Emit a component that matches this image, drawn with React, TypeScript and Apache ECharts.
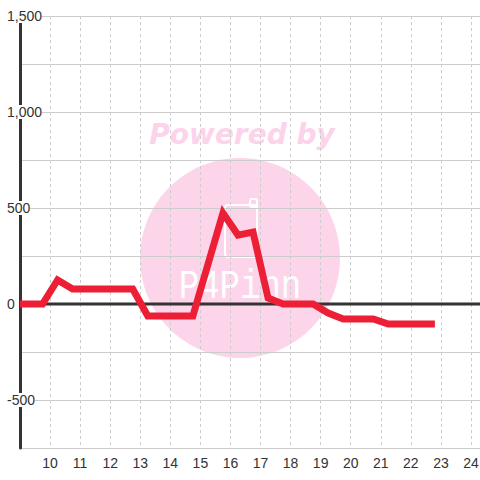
import React, { useEffect, useRef } from "react";
import * as echarts from "echarts";

const xValues = [9, 9.75, 10.25, 10.75, 12.75, 13.25, 14.75, 15.75, 16.25, 16.75, 17.25, 17.75, 18.75, 19.25, 19.75, 20.75, 21.25, 22.8];
const yValues = [0, 0, 125, 78, 78, -62, -62, 474, 359, 375, 31, 0, 0, -47, -78, -78, -104, -104];
const xMin = 9;
const xMax = 24.3;
const yMin = -750;
const yMax = 1500;
const watermarkTitle = "Powered by";
const watermarkLogo = "P4Pinn";

export default function App() {
  const ref = useRef<HTMLDivElement>(null);
  useEffect(() => {
    if (!ref.current) return;
    const chart = echarts.init(ref.current, null, { renderer: "svg" });
    const lineData = xValues.map((x, i) => [x, yValues[i]]);
    chart.setOption({
      animation: false,
      backgroundColor: "#ffffff",
      grid: { left: 20, right: 0, top: 16, bottom: 32, containLabel: false, outerBoundsMode: "none" },
      graphic: [
        {
          type: "circle",
          z: -10,
          silent: true,
          shape: { cx: 240, cy: 258, r: 100 },
          style: { fill: "#fcd5ea" },
        },
        {
          type: "text",
          z: -10,
          silent: true,
          x: 242,
          y: 134,
          style: {
            text: watermarkTitle,
            fill: "#fcd3ea",
            font: "italic bold 28px 'DejaVu Sans', Verdana, sans-serif",
            align: "center",
            verticalAlign: "middle",
          },
        },
        {
          type: "rect",
          z: -9,
          silent: true,
          shape: { x: 225, y: 205, width: 32, height: 52, r: 3 },
          style: { fill: "none", stroke: "#ffffff", lineWidth: 2 },
        },
        {
          type: "rect",
          z: -9,
          silent: true,
          shape: { x: 250, y: 199, width: 7, height: 8, r: 2 },
          style: { fill: "none", stroke: "#ffffff", lineWidth: 2 },
        },
        {
          type: "text",
          z: -9,
          silent: true,
          x: 240,
          y: 287,
          scaleX: 0.85,
          style: {
            text: watermarkLogo,
            fill: "#ffffff",
            font: "40px 'Liberation Mono', monospace",
            align: "center",
            verticalAlign: "middle",
          },
        },
      ],
      xAxis: {
        type: "value",
        min: xMin,
        max: xMax,
        interval: 1,
        axisLine: { show: false },
        axisTick: { show: false },
        axisLabel: {
          margin: 8,
          color: "#333",
          fontSize: 14,
          fontFamily: "'Liberation Sans', Arial, sans-serif",
          formatter: (v: number) => (Number.isInteger(v) && v >= 10 ? String(v) : ""),
        },
        splitLine: { show: true, lineStyle: { color: "#cccccc", width: 1, type: [3, 3] } },
      },
      yAxis: {
        type: "value",
        min: yMin,
        max: yMax,
        interval: 250,
        axisLine: { show: true, onZero: false, lineStyle: { color: "#333333", width: 3 } },
        axisTick: { show: false },
        axisLabel: {
          margin: 13,
          align: "left",
          color: "#333",
          fontSize: 14,
          fontFamily: "'Liberation Sans', Arial, sans-serif",
          formatter: (v: number) =>
            v % 500 === 0 ? "{a|" + v.toLocaleString("en-US") + "}" : "",
          rich: {
            a: {
              backgroundColor: "#ffffff",
              color: "#333",
              fontSize: 14,
              lineHeight: 16,
              fontFamily: "'Liberation Sans', Arial, sans-serif",
            },
          },
        },
        splitLine: { show: true, lineStyle: { color: "#cccccc", width: 1 } },
      },
      series: [
        {
          type: "line",
          z: 1,
          silent: true,
          data: [
            [xMin, 0],
            [xMax, 0],
          ],
          symbol: "none",
          lineStyle: { color: "#333333", width: 3 },
        },
        {
          type: "line",
          z: 2,
          data: lineData,
          symbol: "none",
          lineStyle: { color: "#ed1f36", width: 7, join: "miter", cap: "butt" },
        },
      ],
    });
    return () => chart.dispose();
  }, []);
  return (
    <div
      ref={ref}
      style={{ position: "fixed", left: 0, top: 0, width: 480, height: 480 }}
    />
  );
}
